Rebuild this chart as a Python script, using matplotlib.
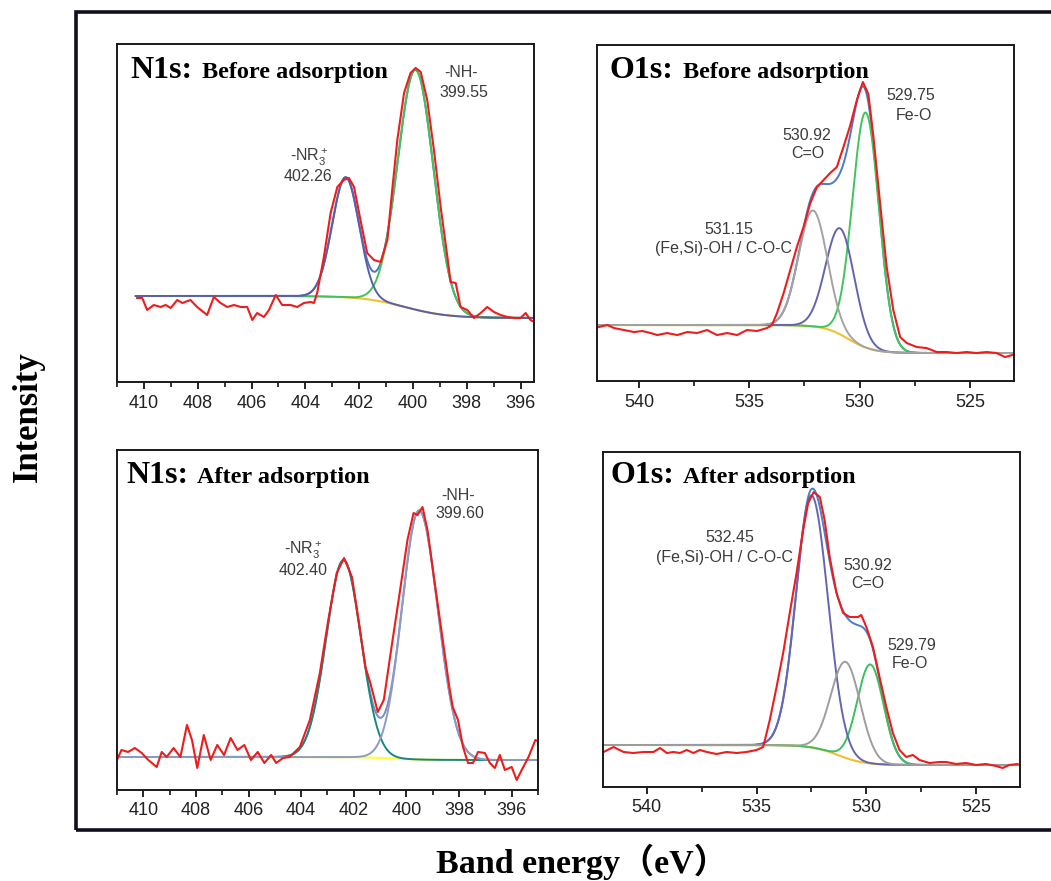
import numpy as np
import matplotlib
matplotlib.use('Agg')
import matplotlib.pyplot as plt
from matplotlib.patches import Rectangle
from matplotlib.ticker import MultipleLocator

plt.rcParams['font.family'] = 'Liberation Sans'
plt.rcParams['mathtext.default'] = 'regular'

# ---- raw spectra (red) ----
n_before_x = [410.25, 410.06, 409.88, 409.63, 409.38, 409.19, 409.0, 408.76, 408.57, 408.27,
              408.02, 407.65, 407.4, 407.15, 406.9, 406.65, 406.4, 406.16, 405.97, 405.79,
              405.54, 405.35, 405.1, 404.86, 404.55, 404.3, 404.05, 403.8, 403.68, 403.56,
              403.31, 403.06, 402.81, 402.57, 402.38, 402.19, 401.95, 401.7, 401.45, 401.2,
              400.95, 400.77, 400.58, 400.33, 400.09, 399.9, 399.71, 399.47, 399.22, 398.97,
              398.72, 398.6, 398.41, 398.23, 397.98, 397.73, 397.48, 397.24, 396.99, 396.74,
              396.49, 396.25, 396.0, 395.81, 395.63, 395.48]
n_before_y = [84, 84, 72, 77, 75, 77, 74, 82, 79, 82,
              75, 67, 85, 79, 75, 77, 75, 75, 62, 69,
              65, 72, 87, 77, 77, 75, 79, 80, 79, 89,
              125, 169, 195, 202, 204, 195, 162, 129, 122, 120,
              142, 192, 242, 289, 309, 314, 310, 282, 232, 175,
              125, 100, 99, 75, 72, 64, 69, 75, 70, 67,
              65, 64, 64, 69, 62, 60]

o_before_x = [541.81, 541.43, 541.13, 540.68, 540.22, 539.85, 539.47, 539.17, 538.72, 538.26,
              537.81, 537.36, 536.91, 536.46, 536.0, 535.55, 535.1, 534.65, 534.19, 533.97,
              533.74, 533.44, 533.14, 532.84, 532.54, 532.23, 531.93, 531.63, 531.33, 531.03,
              530.73, 530.43, 530.12, 529.85, 529.6, 529.37, 529.07, 528.77, 528.47, 528.16,
              527.86, 527.41, 526.96, 526.5, 526.05, 525.6, 525.15, 524.7, 524.24, 523.79,
              523.41, 523.07]
o_before_y = [54, 56, 53, 51, 49, 50, 48, 46, 48, 46,
              49, 48, 51, 46, 48, 46, 51, 50, 53, 56,
              68, 88, 111, 134, 154, 178, 194, 201, 208, 214,
              234, 255, 281, 299, 287, 244, 178, 114, 71, 44,
              38, 34, 33, 29, 29, 28, 29, 28, 29, 28,
              24, 26]

n_after_x = [411.05, 410.83, 410.58, 410.32, 410.06, 409.81, 409.49, 409.3, 409.11, 408.85,
             408.59, 408.34, 408.15, 407.95, 407.7, 407.44, 407.19, 406.93, 406.68, 406.42,
             406.16, 405.91, 405.65, 405.4, 405.14, 404.95, 404.69, 404.44, 404.05, 403.67,
             403.29, 402.97, 402.65, 402.37, 402.07, 401.82, 401.56, 401.37, 401.09, 400.86,
             400.6, 400.28, 399.96, 399.73, 399.58, 399.39, 399.2, 398.94, 398.62, 398.37,
             398.24, 398.04, 397.85, 397.66, 397.47, 397.28, 397.02, 396.83, 396.64, 396.45,
             396.26, 396.0, 395.81, 395.62, 395.36, 395.1, 394.95]
n_after_y = [27, 40, 38, 42, 37, 30, 23, 38, 33, 42,
             33, 65, 50, 22, 55, 30, 45, 35, 52, 40,
             45, 30, 38, 27, 35, 27, 32, 33, 43, 70,
             117, 170, 217, 232, 213, 170, 123, 107, 78, 90,
             137, 193, 250, 277, 275, 283, 260, 210, 150, 103,
             83, 70, 43, 27, 27, 38, 37, 27, 22, 35,
             20, 23, 10, 20, 33, 50, 48]

o_after_x = [541.97, 541.52, 541.06, 540.61, 540.15, 539.7, 539.4, 539.09, 538.79, 538.49,
             538.18, 537.88, 537.58, 537.27, 536.82, 536.37, 535.91, 535.46, 535.0, 534.7,
             534.4, 534.09, 533.79, 533.49, 533.18, 532.88, 532.65, 532.4, 532.12, 531.9,
             531.67, 531.36, 531.06, 530.76, 530.38, 530.23, 530.0, 529.7, 529.4, 529.09,
             528.79, 528.49, 528.18, 527.88, 527.58, 527.12, 526.67, 526.36, 525.91, 525.46,
             525.0, 524.55, 524.09, 523.79, 523.49, 523.11]
o_after_y = [35, 40, 35, 34, 35, 35, 39, 34, 35, 34,
             37, 34, 37, 35, 33, 35, 34, 35, 37, 40,
             67, 100, 134, 174, 214, 257, 284, 295, 290, 267,
             230, 194, 174, 170, 170, 172, 160, 140, 110, 80,
             54, 37, 30, 32, 27, 24, 25, 25, 23, 24,
             22, 23, 21, 19, 22, 23]

# ---- fitted components: centre, height, width on high / low energy side ----
n_before_cen = [402.5, 399.9]
n_before_hgt = [120, 240]
n_before_shi = [0.5, 0.66]
n_before_slo = [0.5, 0.66]
n_before_bg = [86, 64, 400.3, 0.8]      # left level, right level, midpoint, width

o_before_cen = [532.11, 530.88, 529.72]
o_before_hgt = [116, 106, 235]
o_before_shi = [0.65, 0.65, 0.6]
o_before_slo = [0.65, 0.65, 0.6]
o_before_bg = [56, 28, 530.5, 0.55]

n_after_cen = [402.39, 399.52]
n_after_hgt = [197, 249]
n_after_shi = [0.66, 0.65]
n_after_slo = [0.66, 0.71]
n_after_bg = [33, 30, 400.5, 0.6]

o_after_cen = [532.5, 530.94, 529.82]
o_after_hgt = [252, 96, 99]
o_after_shi = [0.7, 0.67, 0.6]
o_after_slo = [0.75, 0.67, 0.6]
o_after_bg = [42, 22, 531.3, 0.6]

RED = '#ee1c1c'


def peak(x, c, h, s_hi, s_lo):
    s = np.where(x >= c, s_hi, s_lo)
    return h * np.exp(-0.5 * ((x - c) / s) ** 2)


def step_bg(x, left, right, mid, w):
    return right + (left - right) / (1 + np.exp(-(x - mid) / w))


def draw_panel(ax, rx, ry, bg, cen, hgt, shi, slo, colors, env_color, bg_color,
               xspan, order):
    x = np.linspace(xspan[0], xspan[1], 900)
    base = step_bg(x, *bg)
    comps = [base + peak(x, c, h, a, b) for c, h, a, b in zip(cen, hgt, shi, slo)]
    env = base + sum(c - base for c in comps)
    ax.plot(x, base, color=bg_color, lw=1.5)
    ax.plot(x, env, color=env_color, lw=1.4)
    # draw order decides which colour ends up on the shared baseline
    for i in order:
        ax.plot(x, comps[i], color=colors[i], lw=1.4)
    ax.plot(rx, ry, color=RED, lw=1.5)


def style_axes(ax, xlim, ytop, major, minor):
    ax.set_xlim(xlim)
    ax.set_ylim(0, ytop)
    ax.set_yticks([])
    ax.xaxis.set_major_locator(MultipleLocator(major))
    ax.xaxis.set_minor_locator(MultipleLocator(minor))
    ax.tick_params(axis='x', which='major', direction='out', length=5, width=1.2,
                   labelsize=13, pad=4, labelcolor='#222222')
    ax.tick_params(axis='x', which='minor', direction='out', length=3.5, width=1.1)
    for sp in ax.spines.values():
        sp.set_linewidth(1.4)
        sp.set_color('#1a1a1a')


def panel_title(ax, elem, state, x1, x2, yb):
    ax.text(x1, yb, elem, transform=ax.transAxes, family='Liberation Serif',
            fontweight='bold', fontsize=23, va='baseline')
    ax.text(x2, yb, state, transform=ax.transAxes, family='Liberation Serif',
            fontweight='bold', fontsize=17.5, va='baseline')


def note(ax, x, y, s):
    ax.text(x, y, s, ha='center', va='center', fontsize=11.5, color='#3c3c3c')


fig = plt.figure(figsize=(10.51, 8.81), dpi=100)

ax1 = fig.add_axes([0.1113, 0.5664, 0.3968, 0.3837])
ax2 = fig.add_axes([0.5680, 0.5675, 0.3968, 0.3814])
ax3 = fig.add_axes([0.1113, 0.1033, 0.4006, 0.3859])
ax4 = fig.add_axes([0.5737, 0.1067, 0.3968, 0.3802])

# N1s before
draw_panel(ax1, n_before_x, n_before_y, n_before_bg, n_before_cen, n_before_hgt,
           n_before_shi, n_before_slo, ['#5a5fa8', '#43c25a'], '#4d73c0', '#f2c12e',
           (410.3, 395.5), [1, 0])
style_axes(ax1, (411, 395.5), 338, 2, 1)
panel_title(ax1, 'N1s:', 'Before adsorption', 0.031, 0.204, 0.899)
note(ax1, 398.2, 309, '-NH-')
note(ax1, 398.1, 289, '399.55')
note(ax1, 403.85, 225, '-NR$_3^+$')
note(ax1, 403.9, 205, '402.26')

# O1s before
draw_panel(ax2, o_before_x, o_before_y, o_before_bg, o_before_cen, o_before_hgt,
           o_before_shi, o_before_slo, ['#a3a3a3', '#6464b0', '#3fc45e'], '#4a7cc6',
           '#f2c12e', (541.9, 523.0), [2, 1, 0])
style_axes(ax2, (541.9, 523.0), 336, 5, 2.5)
panel_title(ax2, 'O1s:', 'Before adsorption', 0.031, 0.206, 0.902)
note(ax2, 532.38, 246, '530.92')
note(ax2, 532.36, 228, 'C=O')
note(ax2, 527.68, 286, '529.75')
note(ax2, 527.55, 266, 'Fe-O')
note(ax2, 535.93, 152, '531.15')
note(ax2, 536.16, 133, '(Fe,Si)-OH / C-O-C')

# N1s after
draw_panel(ax3, n_after_x, n_after_y, n_after_bg, n_after_cen, n_after_hgt,
           n_after_shi, n_after_slo, ['#178686', '#8b9bc6'], '#7a8cc0', '#ffff33',
           (411.0, 395.0), [0, 1])
style_axes(ax3, (411, 395), 340, 2, 1)
panel_title(ax3, 'N1s:', 'After adsorption', 0.023, 0.191, 0.902)
note(ax3, 403.93, 240, '-NR$_3^+$')
note(ax3, 403.93, 220, '402.40')
note(ax3, 398.05, 295, '-NH-')
note(ax3, 397.98, 277, '399.60')

# O1s after
draw_panel(ax4, o_after_x, o_after_y, o_after_bg, o_after_cen, o_after_hgt,
           o_after_shi, o_after_slo, ['#6565b2', '#9e9e9e', '#3cc05a'], '#4b7dc8',
           '#f0be30', (542.0, 523.0), [2, 0, 1])
style_axes(ax4, (542, 523), 335, 5, 2.5)
panel_title(ax4, 'O1s:', 'After adsorption', 0.017, 0.193, 0.907)
note(ax4, 536.21, 250, '532.45')
note(ax4, 536.44, 230, '(Fe,Si)-OH / C-O-C')
note(ax4, 529.93, 222, '530.92')
note(ax4, 529.93, 204, 'C=O')
note(ax4, 527.91, 142, '529.79')
note(ax4, 528.0, 124, 'Fe-O')

# outer frame running off the right edge
fig.add_artist(Rectangle((75.5 / 1051, 51 / 881), 1.0, 818 / 881, transform=fig.transFigure,
                         fill=False, lw=2.6, edgecolor='#10101c', clip_on=False))

fig.text(28 / 1051, 1 - 417 / 881, 'Intensity', rotation=90, ha='center', va='center',
         family='Liberation Serif', fontweight='bold', fontsize=25)
fig.text(582 / 1051, 8 / 881, 'Band energy（eV）', ha='center', va='baseline',
         family=['Liberation Serif', 'Noto Sans CJK SC'], fontweight='bold', fontsize=24.5)

fig.savefig('out.png', dpi=100)
